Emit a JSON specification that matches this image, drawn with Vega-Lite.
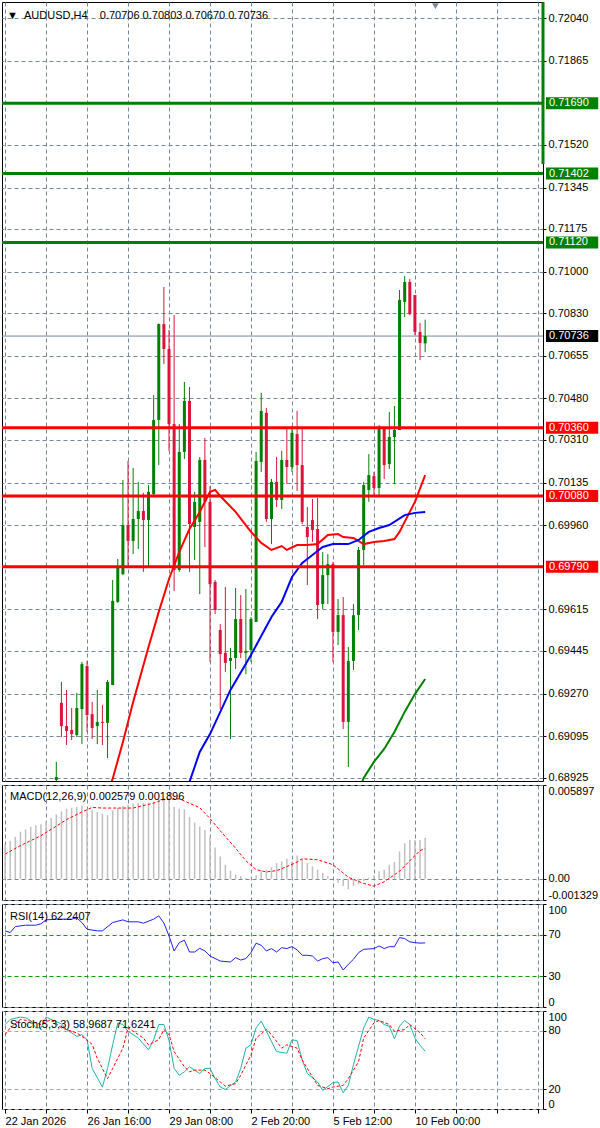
{
"$schema":"https://vega.github.io/schema/vega-lite/v6.json",
"padding":0,
"spacing":4,
"bounds":"flush",
"config":{"font":"Liberation Sans","view":{"stroke":"#000000","strokeWidth":1},
"axis":{"labelFont":"Liberation Sans","labelFontSize":11,"labelColor":"#000000","gridColor":"#778899","gridDash":[4,3],"gridOpacity":1,"gridWidth":1,"domain":false,"tickColor":"#000000","tickSize":3,"labelPadding":2}},
"datasets":{
"candles":[
{"i":10,"o":0.68916,"h":0.68990,"l":0.68867,"c":0.68928},
{"i":11,"o":0.69232,"h":0.69318,"l":0.69092,"c":0.69137},
{"i":12,"o":0.69137,"h":0.69285,"l":0.69059,"c":0.69117},
{"i":13,"o":0.69121,"h":0.69211,"l":0.69080,"c":0.69104},
{"i":14,"o":0.69100,"h":0.69273,"l":0.69092,"c":0.69211},
{"i":15,"o":0.69207,"h":0.69400,"l":0.69063,"c":0.69391},
{"i":16,"o":0.69383,"h":0.69404,"l":0.69113,"c":0.69182},
{"i":17,"o":0.69186,"h":0.69236,"l":0.69084,"c":0.69129},
{"i":18,"o":0.69137,"h":0.69285,"l":0.69063,"c":0.69154},
{"i":19,"o":0.69154,"h":0.69223,"l":0.69059,"c":0.69150},
{"i":20,"o":0.69150,"h":0.69326,"l":0.69006,"c":0.69318},
{"i":21,"o":0.69305,"h":0.69736,"l":0.69305,"c":0.69650},
{"i":22,"o":0.69646,"h":0.69822,"l":0.69642,"c":0.69793},
{"i":23,"o":0.69760,"h":0.70146,"l":0.69756,"c":0.69961},
{"i":24,"o":0.69961,"h":0.70224,"l":0.69797,"c":0.69896},
{"i":25,"o":0.69896,"h":0.70195,"l":0.69842,"c":0.69986},
{"i":26,"o":0.69986,"h":0.70138,"l":0.69863,"c":0.70019},
{"i":27,"o":0.70019,"h":0.70093,"l":0.69769,"c":0.69982},
{"i":28,"o":0.69982,"h":0.70125,"l":0.69789,"c":0.70097},
{"i":29,"o":0.70088,"h":0.70494,"l":0.70080,"c":0.70392},
{"i":30,"o":0.70392,"h":0.70788,"l":0.70207,"c":0.70785},
{"i":31,"o":0.70785,"h":0.70937,"l":0.70621,"c":0.70683},
{"i":32,"o":0.70683,"h":0.70761,"l":0.70265,"c":0.70375},
{"i":33,"o":0.70375,"h":0.70822,"l":0.69691,"c":0.69777},
{"i":34,"o":0.69777,"h":0.70375,"l":0.69769,"c":0.70261},
{"i":35,"o":0.70261,"h":0.70548,"l":0.70232,"c":0.70470},
{"i":36,"o":0.70470,"h":0.70527,"l":0.69769,"c":0.69965},
{"i":37,"o":0.69953,"h":0.70097,"l":0.69818,"c":0.70056},
{"i":38,"o":0.69974,"h":0.70240,"l":0.69678,"c":0.70228},
{"i":39,"o":0.70228,"h":0.70318,"l":0.69871,"c":0.70056},
{"i":40,"o":0.70056,"h":0.70121,"l":0.69400,"c":0.69719},
{"i":41,"o":0.69728,"h":0.69736,"l":0.69596,"c":0.69613},
{"i":42,"o":0.69531,"h":0.69555,"l":0.69207,"c":0.69432},
{"i":43,"o":0.69437,"h":0.69707,"l":0.69359,"c":0.69396},
{"i":44,"o":0.69404,"h":0.69457,"l":0.69084,"c":0.69416},
{"i":45,"o":0.69416,"h":0.69703,"l":0.69371,"c":0.69576},
{"i":46,"o":0.69576,"h":0.69674,"l":0.69416,"c":0.69437},
{"i":47,"o":0.69437,"h":0.69699,"l":0.69350,"c":0.69445},
{"i":48,"o":0.69449,"h":0.69584,"l":0.69400,"c":0.69576},
{"i":49,"o":0.69564,"h":0.70261,"l":0.69564,"c":0.70224},
{"i":50,"o":0.70220,"h":0.70503,"l":0.70179,"c":0.70429},
{"i":51,"o":0.70421,"h":0.70441,"l":0.69974,"c":0.69986},
{"i":52,"o":0.69986,"h":0.70150,"l":0.69883,"c":0.70138},
{"i":53,"o":0.70138,"h":0.70240,"l":0.70035,"c":0.70064},
{"i":54,"o":0.70064,"h":0.70265,"l":0.70027,"c":0.70228},
{"i":55,"o":0.70228,"h":0.70355,"l":0.70129,"c":0.70199},
{"i":56,"o":0.70199,"h":0.70367,"l":0.70179,"c":0.70339},
{"i":57,"o":0.70334,"h":0.70429,"l":0.70101,"c":0.70207},
{"i":58,"o":0.70207,"h":0.70355,"l":0.69965,"c":0.69974},
{"i":59,"o":0.69953,"h":0.70035,"l":0.69715,"c":0.69912},
{"i":60,"o":0.69982,"h":0.70068,"l":0.69892,"c":0.69941},
{"i":61,"o":0.69945,"h":0.70072,"l":0.69576,"c":0.69633},
{"i":62,"o":0.69637,"h":0.69851,"l":0.69617,"c":0.69756},
{"i":63,"o":0.69756,"h":0.69842,"l":0.69637,"c":0.69801},
{"i":64,"o":0.69801,"h":0.69810,"l":0.69400,"c":0.69523},
{"i":65,"o":0.69523,"h":0.69658,"l":0.69469,"c":0.69592},
{"i":66,"o":0.69592,"h":0.69666,"l":0.69125,"c":0.69154},
{"i":67,"o":0.69154,"h":0.69461,"l":0.68969,"c":0.69404},
{"i":68,"o":0.69404,"h":0.69637,"l":0.69367,"c":0.69592},
{"i":69,"o":0.69592,"h":0.69871,"l":0.69531,"c":0.69859},
{"i":70,"o":0.69859,"h":0.70138,"l":0.69797,"c":0.70125},
{"i":71,"o":0.70105,"h":0.70252,"l":0.70056,"c":0.70166},
{"i":72,"o":0.70162,"h":0.70179,"l":0.70076,"c":0.70113},
{"i":73,"o":0.70113,"h":0.70371,"l":0.70084,"c":0.70355},
{"i":74,"o":0.70355,"h":0.70355,"l":0.70150,"c":0.70207},
{"i":75,"o":0.70211,"h":0.70425,"l":0.70191,"c":0.70322},
{"i":76,"o":0.70322,"h":0.70449,"l":0.70129,"c":0.70351},
{"i":77,"o":0.70351,"h":0.70925,"l":0.70351,"c":0.70884},
{"i":78,"o":0.70876,"h":0.70982,"l":0.70814,"c":0.70958},
{"i":79,"o":0.70958,"h":0.70970,"l":0.70822,"c":0.70826},
{"i":80,"o":0.70904,"h":0.70904,"l":0.70740,"c":0.70753},
{"i":81,"o":0.70753,"h":0.70790,"l":0.70638,"c":0.70708},
{"i":82,"o":0.70706,"h":0.70803,"l":0.70670,"c":0.70736}
],
"maRed":[
{"i":19,"v":0.68826},{"i":21,"v":0.68920},{"i":23,"v":0.69072},{"i":25,"v":0.69236},{"i":28,"v":0.69461},{"i":30,"v":0.69605},{"i":32,"v":0.69740},{"i":34,"v":0.69851},{"i":36,"v":0.69945},{"i":38,"v":0.70015},{"i":40,"v":0.70097},{"i":41,"v":0.70105},{"i":42,"v":0.70080},{"i":45,"v":0.70015},{"i":48,"v":0.69933},{"i":50,"v":0.69888},{"i":52,"v":0.69859},{"i":54,"v":0.69875},{"i":55,"v":0.69859},{"i":57,"v":0.69879},{"i":59,"v":0.69879},{"i":61,"v":0.69883},{"i":63,"v":0.69920},{"i":65,"v":0.69924},{"i":66,"v":0.69912},{"i":68,"v":0.69908},{"i":70,"v":0.69883},{"i":72,"v":0.69892},{"i":74,"v":0.69896},{"i":76,"v":0.69904},{"i":77,"v":0.69933},{"i":78,"v":0.69974},{"i":79,"v":0.70015},{"i":80,"v":0.70056},{"i":81,"v":0.70111},{"i":82,"v":0.70166}
],
"maBlue":[
{"i":35,"v":0.68826},{"i":36,"v":0.68908},{"i":38,"v":0.69031},{"i":40,"v":0.69104},{"i":44,"v":0.69285},{"i":48,"v":0.69428},{"i":52,"v":0.69584},{"i":54,"v":0.69646},{"i":56,"v":0.69748},{"i":58,"v":0.69806},{"i":60,"v":0.69838},{"i":62,"v":0.69871},{"i":64,"v":0.69883},{"i":67,"v":0.69883},{"i":69,"v":0.69900},{"i":71,"v":0.69933},{"i":73,"v":0.69949},{"i":75,"v":0.69961},{"i":78,"v":0.70002},{"i":80,"v":0.70011},{"i":82,"v":0.70015}
],
"maGreen":[
{"i":69,"v":0.68867},{"i":70,"v":0.68924},{"i":72,"v":0.68990},{"i":74,"v":0.69043},{"i":76,"v":0.69113},{"i":78,"v":0.69195},{"i":80,"v":0.69268},{"i":82,"v":0.69330}
],
"levels":[
{"p":0.71690,"k":"g"},{"p":0.71402,"k":"g"},{"p":0.71120,"k":"g"},
{"p":0.70360,"k":"r"},{"p":0.70080,"k":"r"},{"p":0.69790,"k":"r"}
],
"tags":[
{"p":0.71690,"k":"g"},{"p":0.71402,"k":"g"},{"p":0.71120,"k":"g"},
{"p":0.70360,"k":"r"},{"p":0.70080,"k":"r"},{"p":0.69790,"k":"r"},
{"p":0.70736,"k":"b"}
],
"bid":[{"p":0.70736}],
"vline":[{"i":105,"top":0.72105,"bot":0.71441}],
"marker":[{"i":84,"p":0.72089}],
"macd":[
{"i":0,"m":0.002172},{"i":1,"m":0.002379},{"i":2,"m":0.002648},{"i":3,"m":0.002959},{"i":4,"m":0.003104},{"i":5,"m":0.003269},{"i":6,"m":0.003372},{"i":7,"m":0.003435},{"i":8,"m":0.003621},{"i":9,"m":0.003828},{"i":10,"m":0.004055},{"i":11,"m":0.004241},{"i":12,"m":0.004407},{"i":13,"m":0.004469},{"i":14,"m":0.00451},{"i":15,"m":0.004614},{"i":16,"m":0.004407},{"i":17,"m":0.004304},{"i":18,"m":0.0042},{"i":19,"m":0.004097},{"i":20,"m":0.003993},{"i":21,"m":0.004304},{"i":22,"m":0.004448},{"i":23,"m":0.004572},{"i":24,"m":0.004655},{"i":25,"m":0.004717},{"i":26,"m":0.004759},{"i":27,"m":0.004779},{"i":28,"m":0.004759},{"i":29,"m":0.004862},{"i":30,"m":0.005028},{"i":31,"m":0.005069},{"i":32,"m":0.005028},{"i":33,"m":0.00451},{"i":34,"m":0.004407},{"i":35,"m":0.004366},{"i":36,"m":0.00389},{"i":37,"m":0.003538},{"i":38,"m":0.003269},{"i":39,"m":0.003062},{"i":40,"m":0.002648},{"i":41,"m":0.001966},{"i":42,"m":0.001407},{"i":43,"m":0.00089},{"i":44,"m":0.000517},{"i":45,"m":0.000269},{"i":46,"m":0.000166},{"i":47,"m":0.000062},{"i":48,"m":0.000062},{"i":49,"m":0.000228},{"i":50,"m":0.000517},{"i":51,"m":0.000579},{"i":52,"m":0.000724},{"i":53,"m":0.000993},{"i":54,"m":0.001097},{"i":55,"m":0.001262},{"i":56,"m":0.001097},{"i":57,"m":0.001469},{"i":58,"m":0.001262},{"i":59,"m":0.000993},{"i":60,"m":0.000786},{"i":61,"m":0.000579},{"i":62,"m":0.000372},{"i":63,"m":0.000166},{"i":64,"m":0.00002},{"i":65,"m":-0.000248},{"i":66,"m":-0.000455},{"i":67,"m":-0.000662},{"i":68,"m":-0.000455},{"i":69,"m":-0.000352},{"i":70,"m":-0.000145},{"i":71,"m":0.000062},{"i":72,"m":0.000228},{"i":73,"m":0.000476},{"i":74,"m":0.000579},{"i":75,"m":0.00089},{"i":76,"m":0.001055},{"i":77,"m":0.001717},{"i":78,"m":0.002234},{"i":79,"m":0.002441},{"i":80,"m":0.002441},{"i":81,"m":0.002441},{"i":82,"m":0.002579}
],
"macdSignal":[
{"i":0,"s":0.001552},{"i":3,"s":0.00209},{"i":7,"s":0.00271},{"i":10,"s":0.00331},{"i":12,"s":0.003724},{"i":15,"s":0.0042},{"i":17,"s":0.00449},{"i":19,"s":0.004448},{"i":25,"s":0.004448},{"i":29,"s":0.004759},{"i":31,"s":0.004986},{"i":34,"s":0.005028},{"i":38,"s":0.004469},{"i":40,"s":0.003786},{"i":42,"s":0.003021},{"i":45,"s":0.001924},{"i":47,"s":0.001138},{"i":49,"s":0.000579},{"i":51,"s":0.000434},{"i":53,"s":0.000517},{"i":55,"s":0.000766},{"i":57,"s":0.001055},{"i":58,"s":0.001262},{"i":61,"s":0.0012},{"i":64,"s":0.00089},{"i":67,"s":0.000103},{"i":70,"s":-0.00029},{"i":72,"s":-0.000455},{"i":74,"s":-0.000186},{"i":77,"s":0.000476},{"i":79,"s":0.001138},{"i":81,"s":0.001779},{"i":82,"s":0.001896}
],
"rsi":[
{"i":0,"v":73.9},{"i":1,"v":72.3},{"i":2,"v":78.1},{"i":4,"v":79.4},{"i":6,"v":79.4},{"i":7,"v":80.8},{"i":8,"v":84.6},{"i":10,"v":85.3},{"i":13,"v":85.3},{"i":14,"v":86.6},{"i":15,"v":82.0},{"i":16,"v":75.5},{"i":18,"v":73.9},{"i":19,"v":73.9},{"i":21,"v":82.0},{"i":23,"v":84.6},{"i":24,"v":82.7},{"i":26,"v":82.7},{"i":27,"v":81.4},{"i":29,"v":85.3},{"i":30,"v":88.5},{"i":31,"v":81.5},{"i":32,"v":69.0},{"i":33,"v":54.4},{"i":34,"v":62.5},{"i":35,"v":64.8},{"i":36,"v":53.4},{"i":37,"v":53.4},{"i":38,"v":57.0},{"i":39,"v":54.4},{"i":40,"v":49.5},{"i":42,"v":44.6},{"i":44,"v":43.7},{"i":45,"v":47.9},{"i":46,"v":45.6},{"i":47,"v":47.0},{"i":48,"v":52.8},{"i":49,"v":62.0},{"i":50,"v":59.9},{"i":51,"v":54.4},{"i":52,"v":56.7},{"i":53,"v":53.4},{"i":54,"v":57.6},{"i":55,"v":56.7},{"i":56,"v":58.6},{"i":57,"v":55.5},{"i":58,"v":50.2},{"i":59,"v":50.2},{"i":60,"v":49.5},{"i":61,"v":44.6},{"i":62,"v":46.9},{"i":63,"v":47.9},{"i":64,"v":43.0},{"i":65,"v":43.7},{"i":66,"v":35.9},{"i":67,"v":41.4},{"i":68,"v":46.3},{"i":69,"v":52.8},{"i":70,"v":56.0},{"i":72,"v":56.7},{"i":73,"v":59.3},{"i":74,"v":56.7},{"i":75,"v":58.6},{"i":76,"v":58.6},{"i":77,"v":67.4},{"i":78,"v":66.4},{"i":79,"v":63.2},{"i":80,"v":62.5},{"i":81,"v":62.0},{"i":82,"v":62.24}
],
"stochK":[
{"i":0,"v":86.0},{"i":1,"v":91.4},{"i":3,"v":93.8},{"i":4,"v":93.1},{"i":5,"v":90.3},{"i":6,"v":82.8},{"i":7,"v":82.8},{"i":8,"v":93.8},{"i":9,"v":91.4},{"i":11,"v":86.9},{"i":12,"v":81.0},{"i":13,"v":77.6},{"i":14,"v":74.1},{"i":15,"v":75.9},{"i":16,"v":70.7},{"i":17,"v":41.4},{"i":19,"v":22.4},{"i":20,"v":41.4},{"i":21,"v":65.5},{"i":22,"v":87.9},{"i":23,"v":86.2},{"i":24,"v":79.3},{"i":26,"v":72.4},{"i":28,"v":60.3},{"i":29,"v":70.7},{"i":30,"v":86.2},{"i":31,"v":86.2},{"i":32,"v":70.0},{"i":33,"v":41.4},{"i":34,"v":34.5},{"i":35,"v":37.9},{"i":36,"v":43.1},{"i":37,"v":39.7},{"i":38,"v":36.2},{"i":39,"v":41.4},{"i":40,"v":41.4},{"i":41,"v":31.0},{"i":42,"v":22.4},{"i":43,"v":20.0},{"i":45,"v":27.6},{"i":46,"v":41.4},{"i":47,"v":62.1},{"i":48,"v":65.5},{"i":49,"v":82.8},{"i":50,"v":89.7},{"i":51,"v":79.3},{"i":52,"v":69.0},{"i":53,"v":58.6},{"i":55,"v":56.9},{"i":56,"v":70.7},{"i":57,"v":69.7},{"i":58,"v":50.0},{"i":59,"v":36.2},{"i":61,"v":27.6},{"i":62,"v":19.0},{"i":64,"v":26.9},{"i":65,"v":27.6},{"i":66,"v":16.6},{"i":67,"v":24.1},{"i":68,"v":45.0},{"i":70,"v":82.8},{"i":71,"v":93.8},{"i":72,"v":91.4},{"i":73,"v":90.3},{"i":74,"v":86.2},{"i":75,"v":84.5},{"i":76,"v":71.7},{"i":77,"v":84.5},{"i":78,"v":90.3},{"i":79,"v":86.2},{"i":80,"v":72.4},{"i":81,"v":65.0},{"i":82,"v":58.97}
],
"stochD":[
{"i":0,"v":75.9},{"i":1,"v":82.8},{"i":3,"v":91.4},{"i":5,"v":89.7},{"i":7,"v":86.2},{"i":9,"v":91.4},{"i":11,"v":82.8},{"i":14,"v":77.6},{"i":15,"v":74.1},{"i":17,"v":66.0},{"i":18,"v":51.7},{"i":20,"v":31.0},{"i":21,"v":41.4},{"i":23,"v":62.1},{"i":24,"v":82.8},{"i":25,"v":79.3},{"i":27,"v":72.4},{"i":28,"v":65.5},{"i":30,"v":70.7},{"i":31,"v":81.0},{"i":32,"v":75.9},{"i":33,"v":58.6},{"i":35,"v":43.1},{"i":36,"v":37.9},{"i":37,"v":39.7},{"i":39,"v":39.7},{"i":40,"v":36.2},{"i":42,"v":27.6},{"i":43,"v":23.4},{"i":45,"v":25.9},{"i":46,"v":34.5},{"i":48,"v":55.2},{"i":49,"v":72.4},{"i":51,"v":81.0},{"i":52,"v":75.9},{"i":54,"v":62.1},{"i":55,"v":65.5},{"i":57,"v":62.1},{"i":58,"v":50.0},{"i":60,"v":32.8},{"i":61,"v":24.1},{"i":63,"v":20.7},{"i":64,"v":22.4},{"i":66,"v":24.1},{"i":67,"v":31.0},{"i":69,"v":48.3},{"i":70,"v":72.4},{"i":72,"v":87.9},{"i":73,"v":90.3},{"i":75,"v":86.2},{"i":76,"v":79.3},{"i":78,"v":81.0},{"i":79,"v":86.2},{"i":81,"v":78.0},{"i":82,"v":71.62}
]
},
"vconcat":[
{
"width":541,"height":779,
"resolve":{"axis":{"x":"independent","y":"independent"}},
"layer":[
{"data":{"name":"bid"},"mark":{"type":"rule","color":"#778899","strokeWidth":1},
 "encoding":{"y":{"field":"p","type":"quantitative","scale":{"domain":[0.689117,0.721056],"nice":false,"zero":false},
  "axis":{"orient":"right","values":[0.7204,0.71865,0.7152,0.71345,0.71175,0.71,0.7083,0.70655,0.7048,0.7031,0.70135,0.6996,0.69615,0.69445,0.6927,0.69095,0.68925],"format":".5f","title":null,"labelOverlap":false,"labelFlush":false,"grid":true}}}},
{"data":{"name":"candles"},"mark":{"type":"rule","strokeWidth":1,"clip":true},
 "encoding":{"x":{"field":"i","type":"quantitative","scale":{"domain":[-0.6,105],"nice":false,"zero":false},
   "axis":{"values":[0,8,16,24,32,40,48,56,64,72,80,88,96,104],"labels":false,"ticks":false,"domain":false,"grid":true,"title":null,"minExtent":0,"maxExtent":0,"labelPadding":0}},
  "y":{"field":"l","type":"quantitative","axis":null},"y2":{"field":"h"},
  "color":{"condition":{"test":"datum.c >= datum.o","value":"#008000"},"value":"#dc143c"}}},
{"data":{"name":"candles"},"mark":{"type":"rule","strokeWidth":3,"clip":true},
 "encoding":{"x":{"field":"i","type":"quantitative","axis":null},
  "y":{"field":"o","type":"quantitative","axis":null},"y2":{"field":"c"},
  "color":{"condition":{"test":"datum.c >= datum.o","value":"#008000"},"value":"#dc143c"}}},
{"data":{"name":"maRed"},"mark":{"type":"line","color":"#ff0000","strokeWidth":2,"clip":true},
 "encoding":{"x":{"field":"i","type":"quantitative","axis":null},"y":{"field":"v","type":"quantitative","axis":null}}},
{"data":{"name":"maBlue"},"mark":{"type":"line","color":"#0000ff","strokeWidth":2,"clip":true},
 "encoding":{"x":{"field":"i","type":"quantitative","axis":null},"y":{"field":"v","type":"quantitative","axis":null}}},
{"data":{"name":"maGreen"},"mark":{"type":"line","color":"#008000","strokeWidth":2,"clip":true},
 "encoding":{"x":{"field":"i","type":"quantitative","axis":null},"y":{"field":"v","type":"quantitative","axis":null}}},
{"data":{"name":"levels"},"mark":{"type":"rule","strokeWidth":3},
 "encoding":{"y":{"field":"p","type":"quantitative","axis":null},
  "color":{"condition":{"test":"datum.k === 'g'","value":"#008000"},"value":"#ff0000"}}},
{"data":{"name":"vline"},"mark":{"type":"rule","strokeWidth":3,"color":"#008000"},
 "encoding":{"x":{"field":"i","type":"quantitative","axis":null},"y":{"field":"top","type":"quantitative","axis":null},"y2":{"field":"bot"}}},
{"data":{"name":"tags"},"mark":{"type":"point","shape":"M0.25,-0.5H4.6V0.5H0.25Z","filled":true,"size":576,"opacity":1,"strokeWidth":0},
 "encoding":{"x":{"datum":105,"type":"quantitative","axis":null},"y":{"field":"p","type":"quantitative","axis":null},
  "color":{"condition":[{"test":"datum.k === 'g'","value":"#008000"},{"test":"datum.k === 'r'","value":"#ff0000"}],"value":"#000000"}}},
{"data":{"name":"tags"},"mark":{"type":"text","align":"left","baseline":"middle","dx":6,"fontSize":11,"color":"#ffffff"},
 "encoding":{"x":{"datum":105,"type":"quantitative","axis":null},"y":{"field":"p","type":"quantitative","axis":null},"text":{"field":"p","type":"quantitative","format":".5f"}}},
{"data":{"name":"marker"},"mark":{"type":"point","shape":"triangle-down","filled":true,"size":45,"color":"#778899","opacity":1},
 "encoding":{"x":{"field":"i","type":"quantitative","axis":null},"y":{"field":"p","type":"quantitative","axis":null}}},
{"data":{"values":[{}]},"mark":{"type":"text","align":"left","baseline":"alphabetic","dx":5,"dy":17,"fontSize":11,"color":"#000000"},
 "encoding":{"x":{"datum":-0.6,"type":"quantitative","axis":null},"y":{"datum":0.721056,"type":"quantitative","axis":null},
  "text":{"value":"▼\u00a0\u00a0AUDUSD,H4\u00a0\u00a0\u00a0\u00a00.70706 0.70803 0.70670 0.70736"}}}
]
},
{
"width":541,"height":115,
"resolve":{"axis":{"x":"independent","y":"independent"}},
"layer":[
{"data":{"name":"macd"},"mark":{"type":"rule","color":"#c0c0c0","strokeWidth":1.5},
 "encoding":{"x":{"field":"i","type":"quantitative","scale":{"domain":[-0.6,105],"nice":false,"zero":false},
   "axis":{"values":[0,8,16,24,32,40,48,56,64,72,80,88,96,104],"labels":false,"ticks":false,"domain":false,"grid":true,"title":null,"minExtent":0,"maxExtent":0,"labelPadding":0}},
  "y":{"field":"m","type":"quantitative","scale":{"domain":[-0.001329,0.005897],"nice":false,"zero":false},
   "axis":{"orient":"right","values":[-0.001329,0,0.005897],"labelExpr":"datum.value == 0 ? '0.00' : replace(format(datum.value, '.6f'), '\u2212', '-')","title":null,"labelFlush":true,"labelOverlap":false,"grid":true}},
  "y2":{"datum":0}}},
{"data":{"name":"macdSignal"},"mark":{"type":"line","color":"#ff0000","strokeWidth":1,"strokeDash":[3,2]},
 "encoding":{"x":{"field":"i","type":"quantitative","axis":null},"y":{"field":"s","type":"quantitative","axis":null}}},
{"data":{"values":[{}]},"mark":{"type":"text","align":"left","baseline":"alphabetic","dx":8,"dy":15,"fontSize":11,"color":"#000000"},
 "encoding":{"x":{"datum":-0.6,"type":"quantitative","axis":null},"y":{"datum":0.005897,"type":"quantitative","axis":null},
  "text":{"value":"MACD(12,26,9) 0.002579 0.001896"}}}
]
},
{
"width":541,"height":103,
"resolve":{"axis":{"x":"independent","y":"independent"}},
"layer":[
{"data":{"name":"rsi"},"mark":{"type":"line","color":"#2020f0","strokeWidth":1},
 "encoding":{"x":{"field":"i","type":"quantitative","scale":{"domain":[-0.6,105],"nice":false,"zero":false},
   "axis":{"values":[0,8,16,24,32,40,48,56,64,72,80,88,96,104],"labels":false,"ticks":false,"domain":false,"grid":true,"title":null,"minExtent":0,"maxExtent":0,"labelPadding":0}},
  "y":{"field":"v","type":"quantitative","scale":{"domain":[0,100],"nice":false,"zero":false},
   "axis":{"orient":"right","values":[0,30,70,100],"title":null,"labelFlush":true,"labelOverlap":false,"grid":true,
    "gridColor":{"condition":{"test":"datum.value === 30 || datum.value === 70","value":"#00a000"},"value":"#778899"}}}}},
{"data":{"values":[{}]},"mark":{"type":"text","align":"left","baseline":"alphabetic","dx":8,"dy":15.5,"fontSize":11,"color":"#000000"},
 "encoding":{"x":{"datum":-0.6,"type":"quantitative","axis":null},"y":{"datum":100,"type":"quantitative","axis":null},
  "text":{"value":"RSI(14) 62.2407"}}}
]
},
{
"width":541,"height":98,
"resolve":{"axis":{"x":"independent","y":"independent"}},
"layer":[
{"data":{"name":"stochK"},"mark":{"type":"line","color":"#20b2aa","strokeWidth":1},
 "encoding":{"x":{"field":"i","type":"quantitative","scale":{"domain":[-0.6,105],"nice":false,"zero":false},
   "axis":{"values":[0,8,16,24,32,40,48,56,64,72,80,88,96,104],"labelExpr":"datum.value == 0 ? '22 Jan 2026' : datum.value == 16 ? '26 Jan 16:00' : datum.value == 32 ? '29 Jan 08:00' : datum.value == 48 ? '2 Feb 20:00' : datum.value == 64 ? '5 Feb 12:00' : datum.value == 80 ? '10 Feb 00:00' : ''","labelAlign":"left","labelFlush":false,"labelOverlap":false,"labelPadding":2,"ticks":true,"tickSize":4,"domain":false,"grid":true,"title":null}},
  "y":{"field":"v","type":"quantitative","scale":{"domain":[0,100],"nice":false,"zero":false},
   "axis":{"orient":"right","values":[0,20,80,100],"title":null,"labelFlush":true,"labelOverlap":false,"grid":true,"gridColor":"#a8a8a8"}}}},
{"data":{"name":"stochD"},"mark":{"type":"line","color":"#ff0000","strokeWidth":1,"strokeDash":[3,2]},
 "encoding":{"x":{"field":"i","type":"quantitative","axis":null},"y":{"field":"v","type":"quantitative","axis":null}}},
{"data":{"values":[{}]},"mark":{"type":"text","align":"left","baseline":"alphabetic","dx":8,"dy":16.5,"fontSize":11,"color":"#000000"},
 "encoding":{"x":{"datum":-0.6,"type":"quantitative","axis":null},"y":{"datum":100,"type":"quantitative","axis":null},
  "text":{"value":"Stoch(5,3,3) 58.9687 71.6241"}}}
]
}
]
}
